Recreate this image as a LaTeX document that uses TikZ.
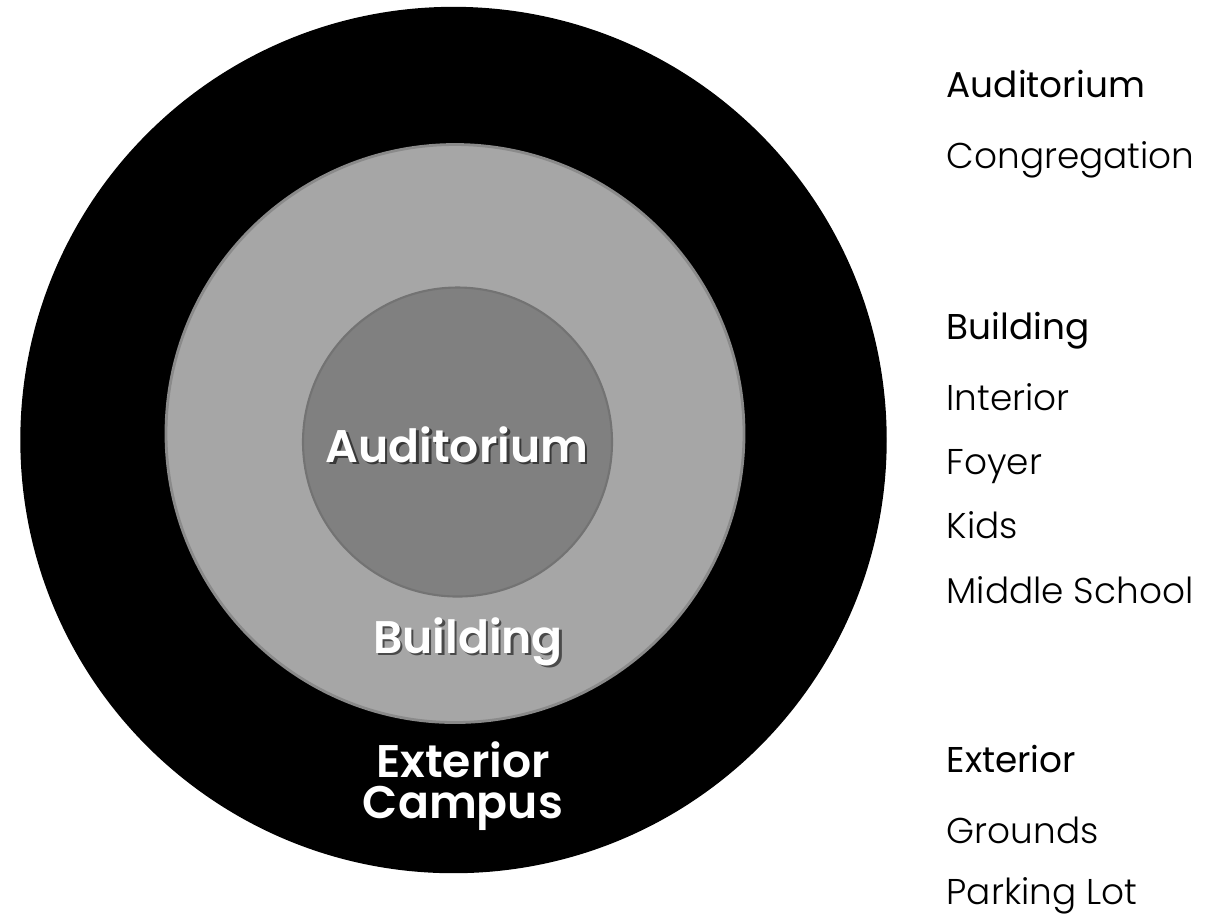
\documentclass[tikz,border=0pt]{standalone}
\usepackage{fontspec}
\setmainfont{Poppins}
\newfontfamily\itemfont{Poppins Light}
\newfontfamily\headfont{Poppins}
\newfontfamily\ringfont{Poppins SemiBold}
\usetikzlibrary{positioning}

\definecolor{ringgray}{HTML}{A6A6A6}
\definecolor{ringedge}{HTML}{8A8A8A}
\definecolor{coregray}{HTML}{808080}
\definecolor{coreedge}{HTML}{737373}

\tikzset{
  ring/.style={draw,circle,inner sep=0pt},
  head/.style={anchor=base west,inner sep=0pt,font=\headfont\fontsize{10.2}{12}\selectfont},
  entry/.style={anchor=base west,inner sep=0pt,font=\itemfont\fontsize{10.2}{12}\selectfont},
  ringlabel/.style={anchor=base,inner sep=0pt,text=white,font=\ringfont\fontsize{13}{15}\selectfont},
  shadow/.style={anchor=base,inner sep=0pt,text=black,opacity=0.55,font=\ringfont\fontsize{13}{15}\selectfont}
}

\begin{document}
\begin{tikzpicture}[x=0.1mm,y=-0.1mm]
\useasboundingbox (0,0) rectangle (1221,913);

% rings
\node[ring,fill=black,draw=black,minimum size=86.5mm] (outer) at (453.5,440){};
\node[ring,fill=ringgray,draw=ringedge,line width=0.8pt,minimum size=57.8mm] (middle) at (455,433.5){};
\node[ring,fill=coregray,draw=coreedge,line width=0.6pt,minimum size=30.9mm] (inner) at (457.5,442){};

% ring labels (shadow first)
\node[shadow] (audshadow) at (459.5,464){Auditorium};
\node[ringlabel] (aud) at (457,462){Auditorium};
\node[shadow] (bldshadow) at (470.5,655){Building};
\node[ringlabel] (bld) at (468,653){Building};
\node[ringlabel] (ext) at (463,777){Exterior};
\node[ringlabel] (cmp) at (463,818){Campus};

% list on the right
\node[head] (hdaud) at (946,97){Auditorium};
\node[entry] (congregation) at (946,168){Congregation};

\node[head] (hdbld) at (946,339){Building};
\node[entry] (interior) at (946,410){Interior};
\node[entry] (foyer) at (946,474){Foyer};
\node[entry] (kids) at (946,538){Kids};
\node[entry] (middleschool) at (946,603){Middle School};

\node[head] (hdext) at (946,772){Exterior};
\node[entry] (grounds) at (946,843){Grounds};
\node[entry] (parking) at (946,904){Parking Lot};
\end{tikzpicture}
\end{document}
